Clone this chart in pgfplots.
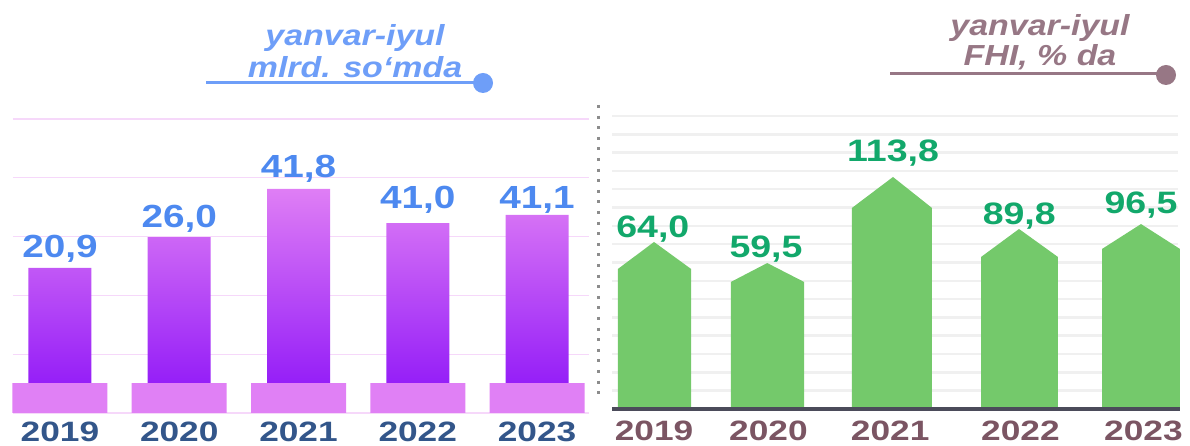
\documentclass[border=0pt]{standalone}
\usepackage{fontspec}
\setmainfont{Liberation Sans}
\newfontfamily\lsb[FakeStretch=1.17]{Liberation Sans}
\newfontfamily\lsy[FakeStretch=1.26]{Liberation Sans}
\newfontfamily\lsv[FakeStretch=1.21]{Liberation Sans}
\usepackage{pgfplots}
\pgfplotsset{compat=1.18}
\definecolor{bartop}{HTML}{DF7EF5}
\definecolor{barbot}{HTML}{8A10F8}
\definecolor{basepink}{HTML}{E080F5}
\definecolor{valblue}{HTML}{4D89F0}
\definecolor{yearblue}{HTML}{33568A}
\definecolor{titleblue}{HTML}{6E9EF8}
\definecolor{gridpink}{HTML}{F6D8FA}
\definecolor{bargreen}{HTML}{74C96B}
\definecolor{greenlab}{HTML}{12A86B}
\definecolor{yearmauve}{HTML}{7B5563}
\definecolor{titlemauve}{HTML}{977785}
\definecolor{gridgray}{HTML}{F0F0F0}
\definecolor{basegray}{HTML}{4B4B5A}
\definecolor{dotgray}{HTML}{8C8C8C}
\begin{document}
\begin{tikzpicture}
\useasboundingbox (0pt,0pt) rectangle (1190pt,446pt);
% ---------------- left panel ----------------
\begin{axis}[at={(13pt,33pt)}, anchor=south west, scale only axis,
  width=576pt, height=294pt,
  xmin=-0.394, xmax=4.436, ymin=0, ymax=50, clip=false,
  axis line style={draw=none}, major tick length=0pt,
  ytick={0,10,...,50}, yticklabels={}, ymajorgrids,
  grid style={color=gridpink, line width=1.3pt},
  xtick={0,1,2,3,4}, xticklabels={2019,2020,2021,2022,2023},
  xticklabel style={anchor=base, yshift=-29pt, inner sep=0pt, text=yearblue,
    font=\lsy\bfseries\fontsize{28}{32}\selectfont}]
\addplot[ybar, bar width=63pt, bar shift=0pt, draw=none,
  top color=bartop, bottom color=barbot]
  coordinates {(0,24.7) (1,29.9) (2,38.1) (3,32.3) (4,33.7)};
\addplot[ybar, bar width=95pt, bar shift=0pt, draw=none, fill=basepink]
  coordinates {(0,5.1) (1,5.1) (2,5.1) (3,5.1) (4,5.1)};
\addplot[draw=none, mark=none, nodes near coords, point meta=explicit symbolic,
  every node near coord/.append style={anchor=base, inner sep=0pt, text=valblue,
    font=\lsv\bfseries\fontsize{32}{36}\selectfont}]
  coordinates {(0,26.4) [20,9] (1,31.5) [26,0] (2,40.0) [41,8] (3,34.7) [41,0] (4,34.7) [41,1]};
\end{axis}
% ---------------- right panel ----------------
\begin{axis}[at={(612pt,37pt)}, anchor=south west, scale only axis,
  width=566pt, height=293pt,
  xmin=-0.345, xmax=4.304, ymin=0, ymax=16, clip=false,
  axis line style={draw=none}, major tick length=0pt,
  ytick={1,2,...,16}, yticklabels={}, ymajorgrids,
  grid style={color=gridgray, line width=2.5pt},
  xtick={0,0.94,1.94,3.01,4.02}, xticklabels={2019,2020,2021,2022,2023},
  xticklabel style={anchor=base, yshift=-32pt, inner sep=0pt, text=yearmauve,
    font=\lsy\bfseries\fontsize{28}{32}\selectfont}]
\addplot[fill=bargreen, draw=none] coordinates {(-0.296,0) (-0.296,7.65) (0,9.12) (0.304,7.65) (0.304,0)} -- cycle;
\addplot[fill=bargreen, draw=none] coordinates {(0.632,0) (0.632,6.94) (0.93,7.97) (1.232,6.94) (1.232,0)} -- cycle;
\addplot[fill=bargreen, draw=none] coordinates {(1.626,0) (1.626,10.98) (1.963,12.67) (2.283,10.98) (2.283,0)} -- cycle;
\addplot[fill=bargreen, draw=none] coordinates {(2.686,0) (2.686,8.30) (2.998,9.83) (3.318,8.30) (3.318,0)} -- cycle;
\addplot[fill=bargreen, draw=none] coordinates {(3.680,0) (3.680,8.74) (4.0,10.10) (4.320,8.74) (4.320,0)} -- cycle;
\addplot[draw=none, mark=none, nodes near coords, point meta=explicit symbolic,
  every node near coord/.append style={anchor=base, inner sep=0pt, text=greenlab,
    font=\lsv\bfseries\fontsize{31}{35}\selectfont}]
  coordinates {(-0.01,9.39) [64,0] (0.92,8.25) [59,5] (1.963,13.49) [113,8] (3.0,10.05) [89,8] (4.0,10.70) [96,5]};
\draw[draw=basegray, line width=3.5pt] (axis cs:-0.345,0) -- (axis cs:4.32,0);
\end{axis}
% ---------------- titles and decorations ----------------
\node[anchor=base, inner sep=0pt, text=titleblue, font=\lsb\bfseries\itshape\fontsize{29}{32}\selectfont] at (355pt,400pt) {yanvar-iyul};
\node[anchor=base, inner sep=0pt, text=titleblue, font=\lsb\bfseries\itshape\fontsize{29}{32}\selectfont] at (355pt,368pt) {mlrd. so‘mda};
\draw[titleblue, line width=3pt] (206pt,363pt) -- (480pt,363pt);
\fill[titleblue] (483pt,363pt) circle (10pt);
\node[anchor=base, inner sep=0pt, text=titlemauve, font=\lsb\bfseries\itshape\fontsize{29}{32}\selectfont] at (1040pt,410pt) {yanvar-iyul};
\node[anchor=base, inner sep=0pt, text=titlemauve, font=\lsb\bfseries\itshape\fontsize{29}{32}\selectfont] at (1040pt,380pt) {FHI, \% da};
\draw[titlemauve, line width=3pt] (890pt,372pt) -- (1160pt,372pt);
\fill[titlemauve] (1166pt,371pt) circle (10pt);
\draw[dotgray, line width=3pt, dash pattern=on 3pt off 7.6pt] (598pt,341pt) -- (598pt,51pt);
\end{tikzpicture}
\end{document}
